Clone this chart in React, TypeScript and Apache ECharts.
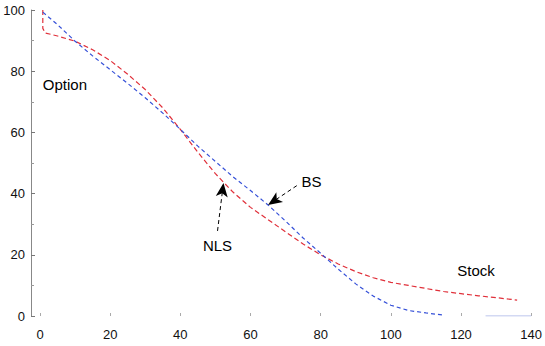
import React, { useEffect, useRef } from "react";
import * as echarts from "echarts";

const xTicks = [0, 20, 40, 60, 80, 100, 120, 140];
const yTicks = [0, 20, 40, 60, 80, 100];

const nlsX = [0.8, 0.8, 1.5, 5, 10, 15, 20, 25, 30, 35, 40, 45, 50, 55, 60, 65, 70, 75, 80, 85, 90, 95, 100, 105, 110, 115, 120, 125, 130, 136];
const nlsY = [100, 94, 92.5, 91.5, 89.8, 87, 83.5, 79, 74, 68, 61, 53.5, 46.5, 40.5, 35.5, 31.5, 27.5, 23.5, 20, 17, 14.5, 12.5, 11, 10, 9, 8, 7.3, 6.6, 6, 5.2];

const bsX = [0.8, 5, 10, 15, 20, 25, 30, 35, 40, 45, 50, 55, 60, 65, 70, 75, 80, 85, 90, 95, 100, 105, 110, 115];
const bsY = [99.3, 95.2, 89.8, 85, 80.5, 76, 71.3, 66.3, 61, 55.5, 50.5, 45.5, 41, 36.3, 31, 25.5, 20.5, 15.3, 10.5, 6.5, 3.5, 1.8, 1, 0.3];

const bsTailX = [127, 140];
const bsTailY = [0, 0];

const labels = [
  { text: "Option", x: 7.1, y: 75.5 },
  { text: "BS", x: 77.4, y: 44.1 },
  { text: "NLS", x: 50.6, y: 23.2 },
  { text: "Stock", x: 124.3, y: 15 },
];

const arrows = [
  { from: [50.6, 27.8], to: [52.3, 43.5] },
  { from: [73.2, 42.6], to: [65, 36.3] },
];

const zip = (xs: number[], ys: number[]) => xs.map((x, i) => [x, ys[i]]);

export default function App() {
  const ref = useRef<HTMLDivElement>(null);
  useEffect(() => {
    if (!ref.current) return;
    const chart = echarts.init(ref.current, null, { renderer: "svg" });
    const font = "'Liberation Sans', Arial, sans-serif";
    chart.setOption({
      animation: false,
      backgroundColor: "#ffffff",
      grid: { left: 40, right: 10, top: 10, bottom: 30 },
      xAxis: {
        type: "value",
        min: 0,
        max: 140,
        interval: 20,
        axisLine: { show: false },
        axisTick: { show: true, inside: true, length: 3, lineStyle: { color: "#aaa" } },
        minorTick: { show: false },
        splitLine: { show: false },
        axisLabel: { fontFamily: font, fontSize: 13, color: "#111", margin: 12 },
      },
      yAxis: {
        type: "value",
        min: 0,
        max: 100,
        interval: 20,
        offset: 9,
        axisLine: { show: true, onZero: false, lineStyle: { color: "#888", width: 1 } },
        axisTick: { show: true, inside: true, length: 4, lineStyle: { color: "#777" } },
        minorTick: { show: true, splitNumber: 2, length: 3, lineStyle: { color: "#999" } },
        splitLine: { show: false },
        axisLabel: { fontFamily: font, fontSize: 13, color: "#111", margin: 6 },
      },
      series: [
        {
          type: "line",
          data: zip(nlsX, nlsY),
          showSymbol: false,
          smooth: false,
          lineStyle: { color: "#e0303a", width: 1.2, type: [5, 3] },
          z: 3,
        },
        {
          type: "line",
          data: zip(bsX, bsY),
          showSymbol: false,
          lineStyle: { color: "#3550d8", width: 1.2, type: [4, 3] },
          z: 4,
          markLine: {
            silent: true,
            symbol: ["none", "arrow"],
            symbolSize: [9, 14],
            label: { show: false },
            lineStyle: { color: "#000", width: 1, type: [4, 3] },
            data: arrows.map((a) => [{ coord: a.from }, { coord: a.to }]),
          },
          markPoint: {
            silent: true,
            symbol: "circle",
            symbolSize: 0,
            data: labels.map((l) => ({
              coord: [l.x, l.y],
              label: {
                show: true,
                position: "inside",
                formatter: l.text,
                color: "#000",
                fontSize: 15,
                fontFamily: font,
              },
            })),
          },
        },
        {
          type: "line",
          data: zip(bsTailX, bsTailY),
          showSymbol: false,
          lineStyle: { color: "#a8b4e8", width: 1.2 },
          z: 2,
        },
      ],
    });
    return () => chart.dispose();
  }, []);
  return (
    <div
      ref={ref}
      style={{ position: "absolute", left: 0, top: 0, width: 545, height: 346 }}
    />
  );
}
